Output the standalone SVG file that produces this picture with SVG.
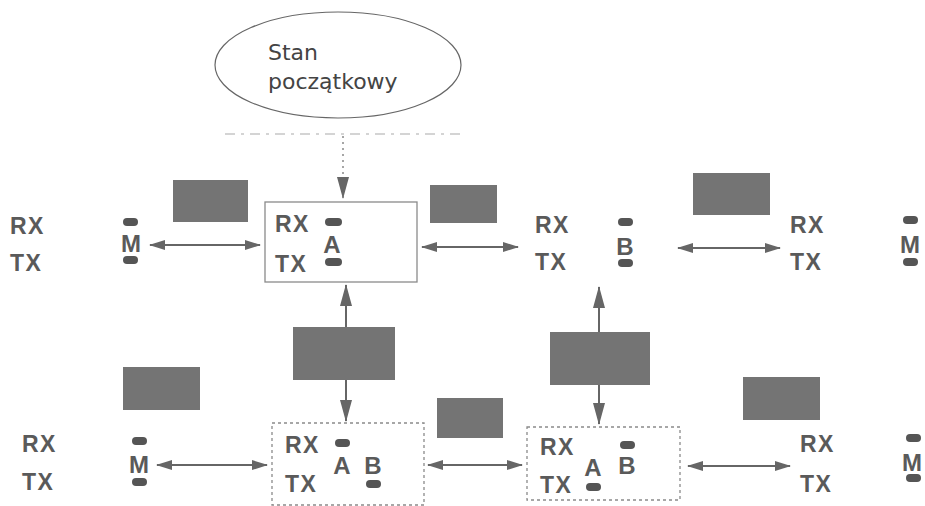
<svg xmlns="http://www.w3.org/2000/svg" width="925" height="506" viewBox="0 0 925 506">
<defs>
<style>
.lbl{font-family:"Liberation Sans",Arial,sans-serif;font-weight:bold;font-size:23px;fill:#5a5a5a;letter-spacing:1.5px}
.ch{font-family:"Liberation Sans",Arial,sans-serif;font-weight:bold;font-size:24px;fill:#5a5a5a;text-anchor:middle}
.bar{fill:#555}
.blk{fill:#747474}
.ln{stroke:#666;stroke-width:2;fill:none}
.box{fill:#fff;stroke:#8a8a8a;stroke-width:1.3}
.dbox{fill:#fff;stroke:#8a8a8a;stroke-width:1.3;stroke-dasharray:3 3}
.ell{font-family:"DejaVu Sans",sans-serif;font-size:22px;fill:#444}
</style>
<marker id="ah" markerUnits="userSpaceOnUse" markerWidth="16" markerHeight="10" refX="15" refY="5" orient="auto-start-reverse"><path d="M0,0 L16,5 L0,10 Z" fill="#666"/></marker>
<marker id="av" markerUnits="userSpaceOnUse" markerWidth="22" markerHeight="12" refX="21" refY="6" orient="auto-start-reverse"><path d="M0,0 L22,6 L0,12 Z" fill="#666"/></marker>
</defs>
<rect width="925" height="506" fill="#fff"/>

<g id="start">
<ellipse cx="338" cy="65" rx="123" ry="53" fill="#fff" stroke="#666" stroke-width="1.2"/>
<text class="ell" x="268" y="60">Stan</text>
<text class="ell" x="268" y="89">początkowy</text>
</g>

<g id="connectors">
<line x1="225" y1="134" x2="465" y2="134" stroke="#aaa" stroke-width="1.2" stroke-dasharray="10 6 3 6"/>
<line x1="343" y1="136" x2="343" y2="198" stroke="#777" stroke-width="1.3" stroke-dasharray="2 4" marker-end="url(#av)"/>
<line class="ln" x1="150" y1="245" x2="260" y2="245" marker-start="url(#ah)" marker-end="url(#ah)"/>
<line class="ln" x1="422" y1="247" x2="518" y2="247" marker-start="url(#ah)" marker-end="url(#ah)"/>
<line class="ln" x1="678" y1="248" x2="780" y2="248" marker-start="url(#ah)" marker-end="url(#ah)"/>
<line class="ln" x1="157" y1="465" x2="267" y2="465" marker-start="url(#ah)" marker-end="url(#ah)"/>
<line class="ln" x1="428" y1="465" x2="522" y2="465" marker-start="url(#ah)" marker-end="url(#ah)"/>
<line class="ln" x1="688" y1="466" x2="790" y2="466" marker-start="url(#ah)" marker-end="url(#ah)"/>
<line class="ln" x1="346" y1="327" x2="346" y2="285" marker-end="url(#av)"/>
<line class="ln" x1="346" y1="380" x2="346" y2="421" marker-end="url(#av)"/>
<line class="ln" x1="599" y1="332" x2="599" y2="287" marker-end="url(#av)"/>
<line class="ln" x1="599" y1="385" x2="599" y2="424" marker-end="url(#av)"/>
</g>

<g id="labels">
<rect class="blk" x="173" y="180" width="75" height="42"/>
<rect class="blk" x="430" y="185" width="67" height="38"/>
<rect class="blk" x="693" y="173" width="77" height="42"/>
<rect class="blk" x="293" y="327" width="102" height="53"/>
<rect class="blk" x="550" y="332" width="100" height="53"/>
<rect class="blk" x="437" y="398" width="66" height="40"/>
<rect class="blk" x="123" y="367" width="77" height="43"/>
<rect class="blk" x="743" y="377" width="77" height="43"/>
</g>

<g id="m-top-left">
<text class="lbl" x="10" y="234">RX</text>
<text class="lbl" x="10" y="271">TX</text>
<rect class="bar" x="123" y="218" width="15" height="8" rx="4"/>
<text class="ch" x="131" y="252">M</text>
<rect class="bar" x="123" y="256" width="15" height="8" rx="4"/>
</g>

<g id="a-top">
<rect class="box" x="265" y="202" width="152" height="80"/>
<text class="lbl" x="275" y="232">RX</text>
<text class="lbl" x="275" y="272">TX</text>
<rect class="bar" x="325" y="218" width="17" height="8" rx="4"/>
<text class="ch" x="332" y="253">A</text>
<rect class="bar" x="325" y="258" width="17" height="8" rx="4"/>
</g>

<g id="b-top">
<text class="lbl" x="535" y="233">RX</text>
<text class="lbl" x="535" y="270">TX</text>
<rect class="bar" x="618" y="218" width="15" height="8" rx="4"/>
<text class="ch" x="625" y="255">B</text>
<rect class="bar" x="618" y="259" width="15" height="8" rx="4"/>
</g>

<g id="m-top-right">
<text class="lbl" x="790" y="233">RX</text>
<text class="lbl" x="790" y="270">TX</text>
<rect class="bar" x="903" y="216" width="15" height="8" rx="4"/>
<text class="ch" x="910" y="253">M</text>
<rect class="bar" x="903" y="258" width="15" height="8" rx="4"/>
</g>

<g id="m-bottom-left">
<text class="lbl" x="22" y="452">RX</text>
<text class="lbl" x="22" y="490">TX</text>
<rect class="bar" x="132" y="437" width="15" height="8" rx="4"/>
<text class="ch" x="139" y="473">M</text>
<rect class="bar" x="132" y="478" width="15" height="8" rx="4"/>
</g>

<g id="ab-left">
<rect class="dbox" x="272" y="423" width="152" height="82"/>
<text class="lbl" x="285" y="453">RX</text>
<text class="lbl" x="285" y="492">TX</text>
<rect class="bar" x="335" y="439" width="15" height="8" rx="4"/>
<text class="ch" x="342" y="474">A</text>
<text class="ch" x="373" y="474">B</text>
<rect class="bar" x="366" y="480" width="15" height="8" rx="4"/>
</g>

<g id="ab-right">
<rect class="dbox" x="527" y="427" width="153" height="73"/>
<text class="lbl" x="540" y="455">RX</text>
<text class="lbl" x="540" y="493">TX</text>
<text class="ch" x="593" y="476">A</text>
<rect class="bar" x="586" y="483" width="15" height="8" rx="4"/>
<rect class="bar" x="620" y="441" width="15" height="8" rx="4"/>
<text class="ch" x="627" y="474">B</text>
</g>

<g id="m-bottom-right">
<text class="lbl" x="800" y="452">RX</text>
<text class="lbl" x="800" y="492">TX</text>
<rect class="bar" x="906" y="434" width="15" height="8" rx="4"/>
<text class="ch" x="912" y="471">M</text>
<rect class="bar" x="906" y="474" width="15" height="8" rx="4"/>
</g>
</svg>
